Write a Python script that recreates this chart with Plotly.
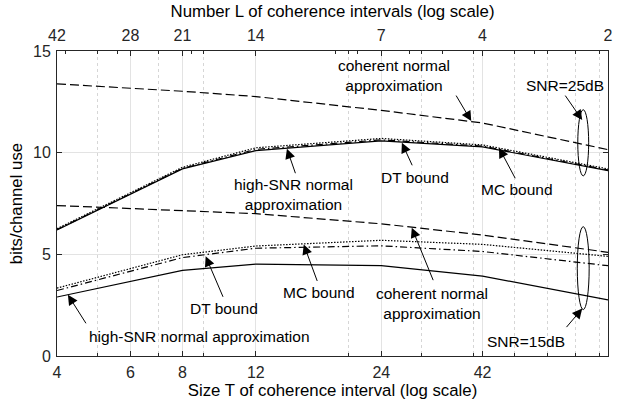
import numpy as np
import plotly.graph_objects as go

# ---------------- data ----------------
T = [4, 8, 12, 24, 42, 84]
T_coh15 = [4, 5.3, 8, 12, 24, 42, 84]

# SNR = 25 dB
hs25 = [6.20, 9.20, 10.10, 10.58, 10.28, 9.12]     # high-SNR normal approximation
dt25 = [6.22, 9.23, 10.16, 10.63, 10.32, 9.15]     # DT bound
mc25 = [6.26, 9.28, 10.24, 10.70, 10.38, 9.20]     # MC bound
coh25 = [13.38, 13.02, 12.76, 12.08, 11.46, 10.15]  # coherent normal approximation

# SNR = 15 dB
hs15 = [2.90, 4.21, 4.52, 4.44, 3.93, 2.76]
dt15 = [3.22, 4.84, 5.30, 5.42, 5.14, 4.44]
mc15 = [3.34, 4.98, 5.41, 5.69, 5.49, 4.90]
coh15 = [7.40, 7.30, 7.16, 7.00, 6.50, 5.95, 5.10]

n_total = 168
L_major = [42, 28, 21, 14, 7, 4, 2]
L_minor = [40, 30, 20, 9, 8, 6, 5, 3]
T_major = [4, 6, 8, 12, 24, 42]
T_minor = [5, 7, 9, 20, 30, 40, 50, 60, 70, 80]

# ---------------- layout geometry ----------------
W, H = 624, 411
ML, MR, MT, MB = 57, 11, 47, 55
PW, PH = W - ML - MR, H - MT - MB


def px(x):
    return (x - ML) / PW


def py(y):
    return (H - MB - y) / PH


FONT = "Liberation Sans, Arial, sans-serif"
INK = "#262626"
TICKF = dict(size=16, color=INK, family=FONT)
TITLEF = dict(size=16.8, color="black", family=FONT)

fig = go.Figure()

LW = 1.2
DASH = "9px,4px"
DOT = "1.5px,1.5px"
DASHDOT = "7px,3px,1.5px,3px"

series = [
    (T, coh25, DASH), (T, mc25, DOT), (T, dt25, DASHDOT), (T, hs25, "solid"),
    (T_coh15, coh15, DASH), (T, mc15, DOT), (T, dt15, DASHDOT), (T, hs15, "solid"),
]
for xs, ys, d in series:
    fig.add_trace(go.Scatter(x=xs, y=ys, mode="lines",
                             line=dict(color="black", width=LW, dash=d),
                             showlegend=False, hoverinfo="skip"))

# invisible trace to activate the top axis
fig.add_trace(go.Scatter(x=[T_major[0], n_total / L_major[-1]], y=[0, 0], xaxis="x2",
                         mode="lines", line=dict(width=0), opacity=0,
                         showlegend=False, hoverinfo="skip"))

xr = [np.log10(4), np.log10(84)]

fig.update_layout(
    width=W, height=H,
    margin=dict(l=ML, r=MR, t=MT, b=MB),
    paper_bgcolor="white", plot_bgcolor="white",
    font=dict(family=FONT, size=15, color=INK),
    xaxis=dict(
        type="log", range=xr,
        tickmode="array", tickvals=T_major, ticktext=[str(v) for v in T_major],
        ticks="inside", ticklen=5, tickcolor=INK, tickwidth=1,
        showline=True, linecolor=INK, linewidth=1, mirror="ticks",
        showgrid=True, gridcolor="#e3e3e3", gridwidth=1,
        minor=dict(tickmode="array", tickvals=T_minor, ticks="inside", ticklen=3,
                   tickcolor=INK, showgrid=True, gridcolor="#d6d6d6", griddash="dot",
                   gridwidth=1),
        zeroline=False, tickfont=TICKF,
        ticklabelstandoff=2,
        title=dict(text="Size T of coherence interval (log scale)", standoff=4,
                   font=TITLEF),
    ),
    xaxis2=dict(
        type="log", range=xr, overlaying="x", side="top",
        tickmode="array", tickvals=[n_total / L for L in L_major],
        ticktext=[str(L) for L in L_major],
        ticks="inside", ticklen=5, tickcolor=INK,
        showline=False, showgrid=False, zeroline=False, tickfont=TICKF,
        minor=dict(tickmode="array", tickvals=[n_total / L for L in L_minor],
                   ticks="inside", ticklen=3, tickcolor=INK, showgrid=False),
        ticklabelstandoff=6,
        title=dict(text="Number L of coherence intervals (log scale)", standoff=4,
                   font=TITLEF),
    ),
    yaxis=dict(
        range=[0, 15], tickmode="array", tickvals=[0, 5, 10, 15],
        ticks="inside", ticklen=5, tickcolor=INK,
        showline=True, linecolor=INK, linewidth=1, mirror="ticks",
        showgrid=True, gridcolor="#e3e3e3", zeroline=False, tickfont=TICKF,
        ticklabelstandoff=2,
        title=dict(text="bits/channel use", standoff=6, font=TITLEF),
    ),
)

# ---------------- text labels ----------------
labels = [
    ("coherent normal<br>approximation", 397, 72),
    ("SNR=25dB", 570, 82),
    ("high-SNR normal<br>approximation", 296, 192),
    ("DT bound", 418, 175),
    ("MC bound", 521, 187),
    ("DT bound", 226, 308),
    ("MC bound", 321, 292),
    ("coherent normal<br>approximation", 435, 303),
    ("high-SNR normal approximation", 201, 336),
    ("SNR=15dB", 530, 341),
]
for t, x, y in labels:
    fig.add_annotation(text=t, x=px(x), y=py(y), xref="paper", yref="paper",
                       xanchor="center", yanchor="middle", showarrow=False,
                       font=dict(size=15.5, color="black", family=FONT))

# ---------------- arrows (tail -> head, pixels) ----------------
arrows = [
    ((459, 91), (475, 118)),
    ((569, 91), (587, 117)),
    ((298, 172), (289, 146)),
    ((416, 164), (405, 140)),
    ((520, 177), (503, 145)),
    ((225, 297), (207, 255)),
    ((320, 281), (306, 243)),
    ((437, 280), (415, 226)),
    ((87, 324), (68, 294)),
    ((570, 328), (587, 308)),
]
for (tx, ty), (hx, hy) in arrows:
    fig.add_annotation(text="", x=px(hx), y=py(hy), xref="paper", yref="paper",
                       ax=tx - hx, ay=ty - hy, axref="pixel", ayref="pixel",
                       showarrow=True, arrowhead=2, arrowsize=2.0, arrowwidth=1.0,
                       arrowcolor="black")

# ---------------- ellipses ----------------
for cx, cy, rx, ry in [(588, 140, 5.5, 33.5), (588, 267, 6, 42)]:
    fig.add_shape(type="circle", xref="paper", yref="paper",
                  x0=px(cx - rx), x1=px(cx + rx), y0=py(cy + ry), y1=py(cy - ry),
                  line=dict(color="black", width=1))

fig.write_html("out.html")
